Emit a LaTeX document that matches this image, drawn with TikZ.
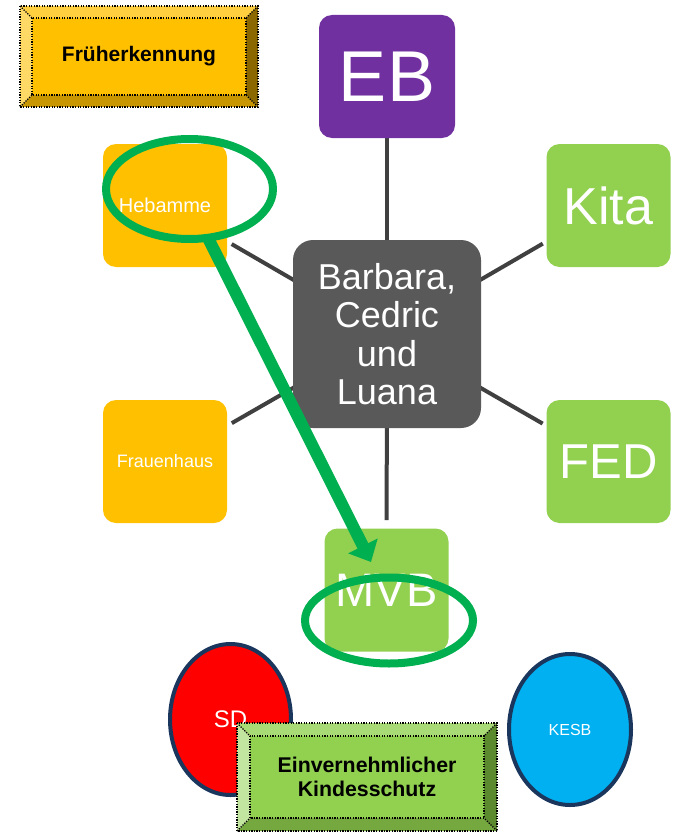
\documentclass[tikz,border=0pt]{standalone}
\usepackage{fontspec}
\setmainfont{Liberation Sans}
\usetikzlibrary{shapes.geometric,arrows.meta,backgrounds}
\definecolor{evorange}{HTML}{FFC000}
\definecolor{evgreen}{HTML}{92D050}
\definecolor{evpurple}{HTML}{7030A0}
\definecolor{evcenter}{HTML}{595959}
\definecolor{evconn}{HTML}{404040}
\definecolor{evring}{HTML}{00B050}
\definecolor{evred}{HTML}{FF0000}
\definecolor{evnavy}{HTML}{1B365D}
\definecolor{evblue}{HTML}{00B0F0}
% bevel colours, Frueherkennung
\definecolor{frface}{HTML}{FFC000}
\definecolor{frtop}{HTML}{FFCF40}
\definecolor{frleft}{HTML}{FFD966}
\definecolor{frright}{HTML}{8C6900}
\definecolor{frbot}{HTML}{C79600}
% bevel colours, Einvernehmlicher Kindesschutz
\definecolor{kiface}{HTML}{92D050}
\definecolor{kitop}{HTML}{A8DA76}
\definecolor{kileft}{HTML}{C2E5A0}
\definecolor{kiright}{HTML}{5B8A2E}
\definecolor{kibot}{HTML}{75A83E}
\tikzset{
  sat/.style={rectangle, rounded corners=13pt, minimum width=124pt, minimum height=123pt, inner sep=0pt, text=white},
  conn/.style={draw=evconn, line width=4pt},
  ring/.style={ellipse, draw=evring, line width=8pt, inner sep=0pt},
  oval/.style={ellipse, draw=evnavy, line width=4pt, inner sep=0pt, text=white},
  dotb/.style={draw=black, line width=1.3pt, dash pattern=on 1.3pt off 1.3pt},
  bevtext/.style={align=center, font=\bfseries\fontsize{21}{24}\selectfont, text=black}
}
\newcommand\mybevel[6]{%
  \fill[#1top] (#2,#3) -- (#4,#3) -- (#4-#6,#3+#6) -- (#2+#6,#3+#6) -- cycle;
  \fill[#1bot] (#2,#5) -- (#4,#5) -- (#4-#6,#5-#6) -- (#2+#6,#5-#6) -- cycle;
  \fill[#1left] (#2,#3) -- (#2+#6,#3+#6) -- (#2+#6,#5-#6) -- (#2,#5) -- cycle;
  \fill[#1right] (#4,#3) -- (#4-#6,#3+#6) -- (#4-#6,#5-#6) -- (#4,#5) -- cycle;
  \fill[#1face] (#2+#6,#3+#6) rectangle (#4-#6,#5-#6);
  \draw[dotb] (#2,#3) rectangle (#4,#5);
  \draw[dotb] (#2+#6,#3+#6) rectangle (#4-#6,#5-#6);
  \draw[dotb] (#2,#3) -- (#2+#6,#3+#6);
  \draw[dotb] (#4,#3) -- (#4-#6,#3+#6);
  \draw[dotb] (#2,#5) -- (#2+#6,#5-#6);
  \draw[dotb] (#4,#5) -- (#4-#6,#5-#6);
}
\begin{document}
\begin{tikzpicture}[x=1pt,y=-1pt]
\useasboundingbox (0,0) rectangle (677,832);

% satellites
\node[sat, fill=evpurple, minimum width=136pt, font=\fontsize{72}{72}\selectfont] (eb) at (387,76.5) {EB};
\node[sat, fill=evgreen, font=\fontsize{52}{52}\selectfont] (kita) at (608.5,205.5) {Kita};
\node[sat, fill=evorange, font=\fontsize{20}{20}\selectfont] (heb) at (165,205.5) {Hebamme};
\node[sat, fill=evorange, font=\fontsize{18}{18}\selectfont] (frau) at (165,461.5) {Frauenhaus};
\node[sat, fill=evgreen, font=\fontsize{49}{49}\selectfont] (fed) at (608.5,461.5) {FED};
\node[sat, fill=evgreen, font=\fontsize{47}{47}\selectfont] (mvb) at (386.5,590) {MVB};

% centre
\node[rectangle, rounded corners=20pt, fill=evcenter, minimum width=188pt, minimum height=188pt, inner sep=0pt, text=white, align=center, font=\fontsize{36}{38.5}\selectfont] (c) at (387,334) {Barbara,\\Cedric\\und\\Luana};

% connectors
\begin{pgfonlayer}{background}
\draw[conn, shorten >=61.5pt] (c.center) -- (eb.center);
\draw[conn, shorten >=70pt] (c.center) -- (mvb.center);
\draw[conn, shorten >=77pt] (c.center) -- (heb.center);
\draw[conn, shorten >=77pt] (c.center) -- (frau.center);
\draw[conn, shorten >=76pt] (c.center) -- (kita.center);
\draw[conn, shorten >=76pt] (c.center) -- (fed.center);
\end{pgfonlayer}

% green highlight rings and arrow
\node[ring, minimum width=167pt, minimum height=100pt] (ring1) at (189.5,189) {};
\coordinate (arS) at (207,236);
\coordinate (arE) at (371,562);
\draw[draw=evring, line width=12pt, -{Triangle[length=18pt,width=32pt]}] (arS) -- (arE);
\node[ring, minimum width=168pt, minimum height=86pt] (ring2) at (389,620.5) {};

% ovals
\node[oval, fill=evred, minimum width=121pt, minimum height=151pt, font=\fontsize{24}{24}\selectfont] (sd) at (230.5,719.5) {SD};
\node[oval, fill=evblue, minimum width=122pt, minimum height=151pt, font=\fontsize{16}{16}\selectfont] (kesb) at (570,729.5) {KESB};

% bevel boxes
\mybevel{fr}{20}{6}{258}{107}{12}
\node[bevtext] (frueh) at (139,56.5) {Früherkennung};
\mybevel{ki}{237}{723}{497}{831}{13}
\node[bevtext, font=\bfseries\fontsize{21.3}{24}\selectfont] (kinder) at (367,777) {Einvernehmlicher\\Kindesschutz};
\end{tikzpicture}
\end{document}
